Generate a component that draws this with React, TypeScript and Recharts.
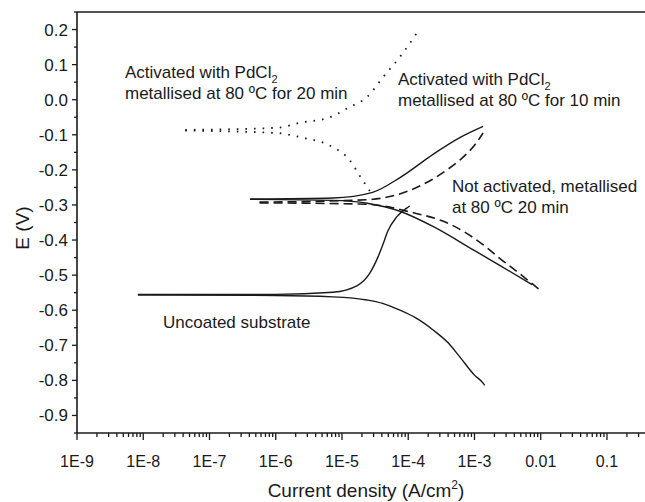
import React from 'react';
import { LineChart, Line, XAxis, YAxis, ReferenceLine, ReferenceDot } from 'recharts';

// current density (A/cm2) vs potential (V); each curve split into cathodic and anodic branch
const uncoatedCathodic = [
  { i: 8.3e-9, e: -0.557 }, { i: 1e-6, e: -0.558 }, { i: 7.3e-6, e: -0.562 }, { i: 2.4e-5, e: -0.571 },
  { i: 4e-5, e: -0.58 }, { i: 7.5e-5, e: -0.6 }, { i: 1.3e-4, e: -0.622 }, { i: 2.4e-4, e: -0.657 },
  { i: 4e-4, e: -0.693 }, { i: 6e-4, e: -0.733 }, { i: 1e-3, e: -0.785 }, { i: 1.35e-3, e: -0.808 },
  { i: 1.42e-3, e: -0.814 },
];
const uncoatedAnodic = [
  { i: 8.3e-9, e: -0.555 }, { i: 1e-6, e: -0.555 }, { i: 7.3e-6, e: -0.549 }, { i: 1.7e-5, e: -0.53 },
  { i: 2.6e-5, e: -0.496 }, { i: 3.5e-5, e: -0.448 }, { i: 4.2e-5, e: -0.41 }, { i: 4.9e-5, e: -0.375 },
  { i: 6.7e-5, e: -0.334 }, { i: 9.5e-5, e: -0.309 }, { i: 1.05e-4, e: -0.303 },
];

const activated10Cathodic = [
  { i: 4.1e-7, e: -0.284 }, { i: 7.3e-6, e: -0.287 }, { i: 2.4e-5, e: -0.295 }, { i: 7.5e-5, e: -0.318 },
  { i: 2.4e-4, e: -0.362 }, { i: 9.6e-4, e: -0.428 }, { i: 2.4e-3, e: -0.472 }, { i: 7.4e-3, e: -0.527 },
];
const activated10Anodic = [
  { i: 4.1e-7, e: -0.283 }, { i: 7.3e-6, e: -0.28 }, { i: 2.9e-5, e: -0.264 }, { i: 7.5e-5, e: -0.222 },
  { i: 2.4e-4, e: -0.155 }, { i: 6e-4, e: -0.108 }, { i: 1.35e-3, e: -0.076 },
];

const notActivatedCathodic = [
  { i: 5.7e-7, e: -0.294 }, { i: 2.4e-5, e: -0.298 }, { i: 1.07e-4, e: -0.32 }, { i: 4.3e-4, e: -0.355 },
  { i: 1.5e-3, e: -0.42 }, { i: 2.4e-3, e: -0.452 }, { i: 4.9e-3, e: -0.497 }, { i: 9.8e-3, e: -0.543 },
];
const notActivatedAnodic = [
  { i: 5.7e-7, e: -0.292 }, { i: 2.4e-5, e: -0.285 }, { i: 1.17e-4, e: -0.255 }, { i: 3.85e-4, e: -0.2 },
  { i: 6.8e-4, e: -0.163 }, { i: 1e-3, e: -0.13 }, { i: 1.35e-3, e: -0.095 },
];

const activated20Cathodic = [
  { i: 4.3e-8, e: -0.088 }, { i: 1.04e-6, e: -0.095 }, { i: 2.5e-6, e: -0.108 }, { i: 6.6e-6, e: -0.131 },
  { i: 1.3e-5, e: -0.172 }, { i: 1.9e-5, e: -0.22 }, { i: 2.4e-5, e: -0.249 }, { i: 2.9e-5, e: -0.272 },
];
const activated20Anodic = [
  { i: 4.3e-8, e: -0.086 }, { i: 1.04e-6, e: -0.08 }, { i: 2.3e-6, e: -0.066 }, { i: 6.6e-6, e: -0.05 },
  { i: 1.3e-5, e: -0.021 }, { i: 2.4e-5, e: 0.008 }, { i: 4.2e-5, e: 0.065 }, { i: 7.5e-5, e: 0.122 },
  { i: 1.35e-4, e: 0.19 },
];

const xMajor = [1e-9, 1e-8, 1e-7, 1e-6, 1e-5, 1e-4, 1e-3, 0.01, 0.1];
const xMajorLabels = ['1E-9', '1E-8', '1E-7', '1E-6', '1E-5', '1E-4', '1E-3', '0.01', '0.1'];
const X_MAX = 0.375;
const Y_MIN = -0.95;
const Y_MAX = 0.25;

const FONT = '"Liberation Sans", Arial, sans-serif';
const INK = '#1a1a1a';

const xTicks: number[] = [];
xMajor.forEach(m => {
  for (let k = 1; k <= 9; k++) {
    const v = +(m * k).toPrecision(3);
    if (v <= X_MAX) xTicks.push(v);
  }
});
const yTicks: number[] = [];
for (let k = 0; k <= 24; k++) yTicks.push(+(Y_MIN + k * 0.05).toFixed(2));

const XTick = ({ x, y, payload }: any) => {
  const v = payload.value;
  const idx = xMajor.findIndex(m => Math.abs(m - v) / m < 1e-6);
  const major = idx >= 0;
  return (
    <g>
      <line x1={x} x2={x} y1={y} y2={y + (major ? 7 : 4)} stroke={INK} strokeWidth={1.3} />
      {major && (
        <text x={x} y={y + 34} textAnchor="middle" fontSize={16} fontFamily={FONT} fill={INK}>
          {xMajorLabels[idx]}
        </text>
      )}
    </g>
  );
};

const YTick = ({ x, y, payload }: any) => {
  const v = payload.value;
  const major = Math.abs(v * 10 - Math.round(v * 10)) < 1e-6;
  const label = Math.abs(v) < 1e-9 ? '0.0' : v.toFixed(1);
  return (
    <g>
      <line x1={x} x2={x - (major ? 5 : 3)} y1={y} y2={y} stroke={INK} strokeWidth={1.3} />
      {major && (
        <text x={x - 9} y={y + 6} textAnchor="end" fontSize={17} fontFamily={FONT} fill={INK}>
          {label}
        </text>
      )}
    </g>
  );
};

const Note = ({ viewBox, first, sub, second }: any) => {
  const { x, y } = viewBox;
  return (
    <text fontSize={17} fontFamily={FONT} fill={INK}>
      <tspan x={x} y={y}>
        {first}
        {sub && <tspan dy={5} fontSize={11}>{sub}</tspan>}
      </tspan>
      {second && <tspan x={x} y={y + 21}>{second}</tspan>}
    </text>
  );
};

const XTitle = ({ viewBox }: any) => (
  <text x={viewBox.x + 289} y={viewBox.y + 64} textAnchor="middle" fontSize={19} fontFamily={FONT} fill={INK}>
    Current density (A/cm<tspan dy={-8} fontSize={12}>2</tspan><tspan dy={8}>)</tspan>
  </text>
);

const YTitle = ({ viewBox }: any) => (
  <text
    x={viewBox.x + 22}
    y={228}
    transform={`rotate(-90 ${viewBox.x + 22} 228)`}
    textAnchor="middle"
    dominantBaseline="central"
    fontSize={19}
    fontFamily={FONT}
    fill={INK}
  >
    E (V)
  </text>
);

const solid = { stroke: INK, strokeWidth: 1.4 };
const dashed = { stroke: INK, strokeWidth: 1.6, strokeDasharray: '9 5' };
const dotted = { stroke: INK, strokeWidth: 1.8, strokeDasharray: '1.6 7' };

const branches = [
  { key: 'uc', data: uncoatedCathodic, style: solid },
  { key: 'ua', data: uncoatedAnodic, style: solid },
  { key: 'a10c', data: activated10Cathodic, style: solid },
  { key: 'a10a', data: activated10Anodic, style: solid },
  { key: 'nac', data: notActivatedCathodic, style: dashed },
  { key: 'naa', data: notActivatedAnodic, style: dashed },
  { key: 'a20c', data: activated20Cathodic, style: dotted },
  { key: 'a20a', data: activated20Anodic, style: dotted },
];

export default function App() {
  return (
    <div style={{ position: 'absolute', left: 0, top: 0, background: '#fff' }}>
      <LineChart width={645} height={502} margin={{ top: 12, right: 0, bottom: 0, left: 0 }}>
        <XAxis
          dataKey="i"
          type="number"
          scale="log"
          domain={[1e-9, X_MAX]}
          allowDataOverflow
          ticks={xTicks}
          interval={0}
          tickSize={0}
          tickMargin={0}
          tickLine={false}
          tick={<XTick />}
          height={69}
          axisLine={{ stroke: INK, strokeWidth: 1.6 }}
          label={<XTitle />}
        />
        <YAxis
          type="number"
          domain={[Y_MIN, Y_MAX]}
          allowDataOverflow
          ticks={yTicks}
          interval={0}
          tickSize={0}
          tickMargin={0}
          tickLine={false}
          tick={<YTick />}
          width={77}
          axisLine={{ stroke: INK, strokeWidth: 1.6 }}
          label={<YTitle />}
        />
        <ReferenceLine y={Y_MAX} stroke={INK} strokeWidth={1.6} />
        {branches.map(b => (
          <Line
            key={b.key}
            data={b.data}
            dataKey="e"
            type="monotone"
            {...b.style}
            dot={false}
            activeDot={false}
            isAnimationActive={false}
          />
        ))}
        <ReferenceDot x={5.3e-9} y={0.062} r={0} fill="none" stroke="none"
          label={<Note first="Activated with PdCl" sub="2" second="metallised at 80 ºC for 20 min" />} />
        <ReferenceDot x={7.0e-5} y={0.042} r={0} fill="none" stroke="none"
          label={<Note first="Activated with PdCl" sub="2" second="metallised at 80 ºC for 10 min" />} />
        <ReferenceDot x={4.57e-4} y={-0.263} r={0} fill="none" stroke="none"
          label={<Note first="Not activated, metallised" second="at 80 ºC 20 min" />} />
        <ReferenceDot x={1.99e-8} y={-0.651} r={0} fill="none" stroke="none"
          label={<Note first="Uncoated substrate" />} />
      </LineChart>
    </div>
  );
}
